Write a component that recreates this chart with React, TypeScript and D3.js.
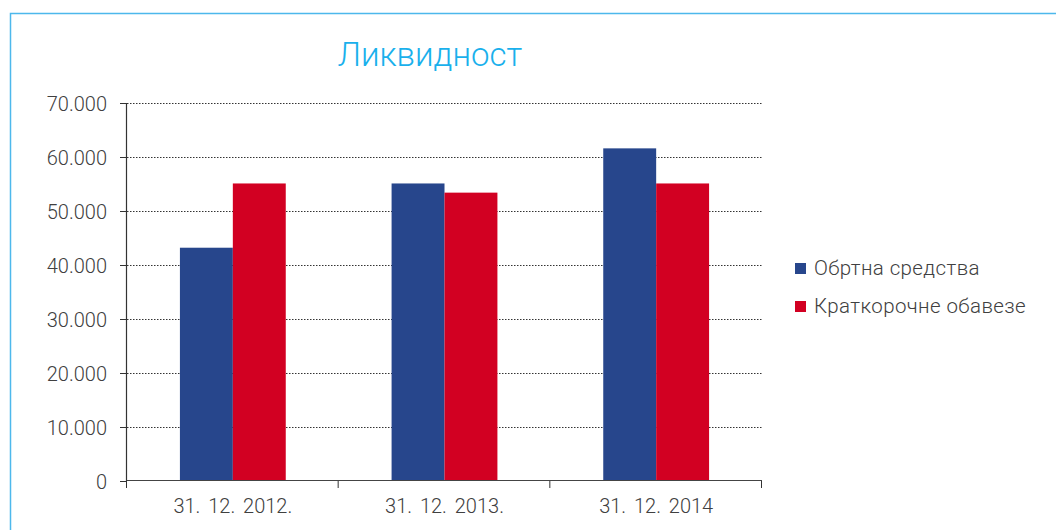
import React from "react";
import * as d3 from "d3";

const categories = ["31. 12. 2012.", "31. 12. 2013.", "31. 12. 2014"];
const seriesNames = ["Обртна средства", "Краткорочне обавезе"];
const currentAssets = [43200, 55100, 61600];
const currentLiabilities = [55100, 53400, 55100];
const yTicks = [0, 10000, 20000, 30000, 40000, 50000, 60000, 70000];
const colors = ["#27468c", "#d20022"];

const W = 1056;
const H = 530;
const m = { left: 127, right: 762, top: 103, bottom: 481 };

export default function App() {
  const x = d3.scaleBand<string>().domain(categories).range([m.left, m.right]).paddingInner(0).paddingOuter(0);
  const y = d3.scaleLinear().domain([0, 70000]).range([m.bottom, m.top]);
  const inner = d3.scaleBand<number>().domain([0, 1]).range([0, x.bandwidth()]).paddingOuter(1).paddingInner(0);
  const fmt = (v: number) => (v === 0 ? "0" : d3.format(",")(v).replace(/,/g, "."));
  const series = [currentAssets, currentLiabilities];
  const font = "Roboto, 'Noto Sans', sans-serif";
  return (
    <svg width={W} height={H} style={{ position: "absolute", left: 0, top: 0 }}>
      <rect x={0} y={0} width={W} height={H} fill="#fff" />
      <path d={`M10.5,${H} V13.5 H${W}`} fill="none" stroke="#4db8ec" strokeWidth={1.5} />
      <text x={430} y={66} textAnchor="middle" fontFamily={font} fontWeight={300} fontSize={33} fill="#19b0ec">
        Ликвидност
      </text>
      {yTicks.map((t) => (
        <g key={t}>
          {t > 0 && (
            <line x1={m.left} x2={m.right} y1={Math.round(y(t)) + 0.5} y2={Math.round(y(t)) + 0.5} stroke="#333" strokeWidth={1} strokeDasharray="1.5,1.5" />
          )}
          <line x1={m.left - 7} x2={m.left} y1={Math.round(y(t)) + 0.5} y2={Math.round(y(t)) + 0.5} stroke="#333" />
          <text x={m.left - 20} y={y(t) + 7.5} textAnchor="end" fontFamily={font} fontWeight={300} fontSize={20} fill="#404040">
            {fmt(t)}
          </text>
        </g>
      ))}
      {categories.map((c, i) =>
        series.map((s, j) => (
          <rect
            key={`${c}-${j}`}
            x={(x(c) as number) + (inner(j) as number)}
            y={y(s[i])}
            width={inner.bandwidth()}
            height={y(0) - y(s[i])}
            fill={colors[j]}
          />
        ))
      )}
      <line x1={m.left - 0.5} x2={m.left - 0.5} y1={m.top} y2={m.bottom} stroke="#333" strokeWidth={1.2} />
      <line x1={m.left} x2={m.right} y1={m.bottom - 0.5} y2={m.bottom - 0.5} stroke="#444" strokeWidth={1.2} />
      {[...categories.map((c) => x(c) as number), m.right].map((tx, i) => (
        <line key={i} x1={tx - 0.5} x2={tx - 0.5} y1={m.bottom} y2={m.bottom + 7} stroke="#333" />
      ))}
      {categories.map((c) => (
        <text key={c} x={(x(c) as number) + x.bandwidth() / 2} y={m.bottom + 32} textAnchor="middle" fontFamily={font} fontWeight={300} fontSize={20} wordSpacing={3} fill="#404040">
          {c}
        </text>
      ))}
      {seriesNames.map((n, i) => (
        <g key={n} transform={`translate(795, ${263 + i * 38})`}>
          <rect x={0} y={0} width={11} height={11} fill={colors[i]} />
          <text x={19} y={12} fontFamily={font} fontWeight={300} fontSize={20.5} letterSpacing={0.4} fill="#404040">
            {n}
          </text>
        </g>
      ))}
    </svg>
  );
}
